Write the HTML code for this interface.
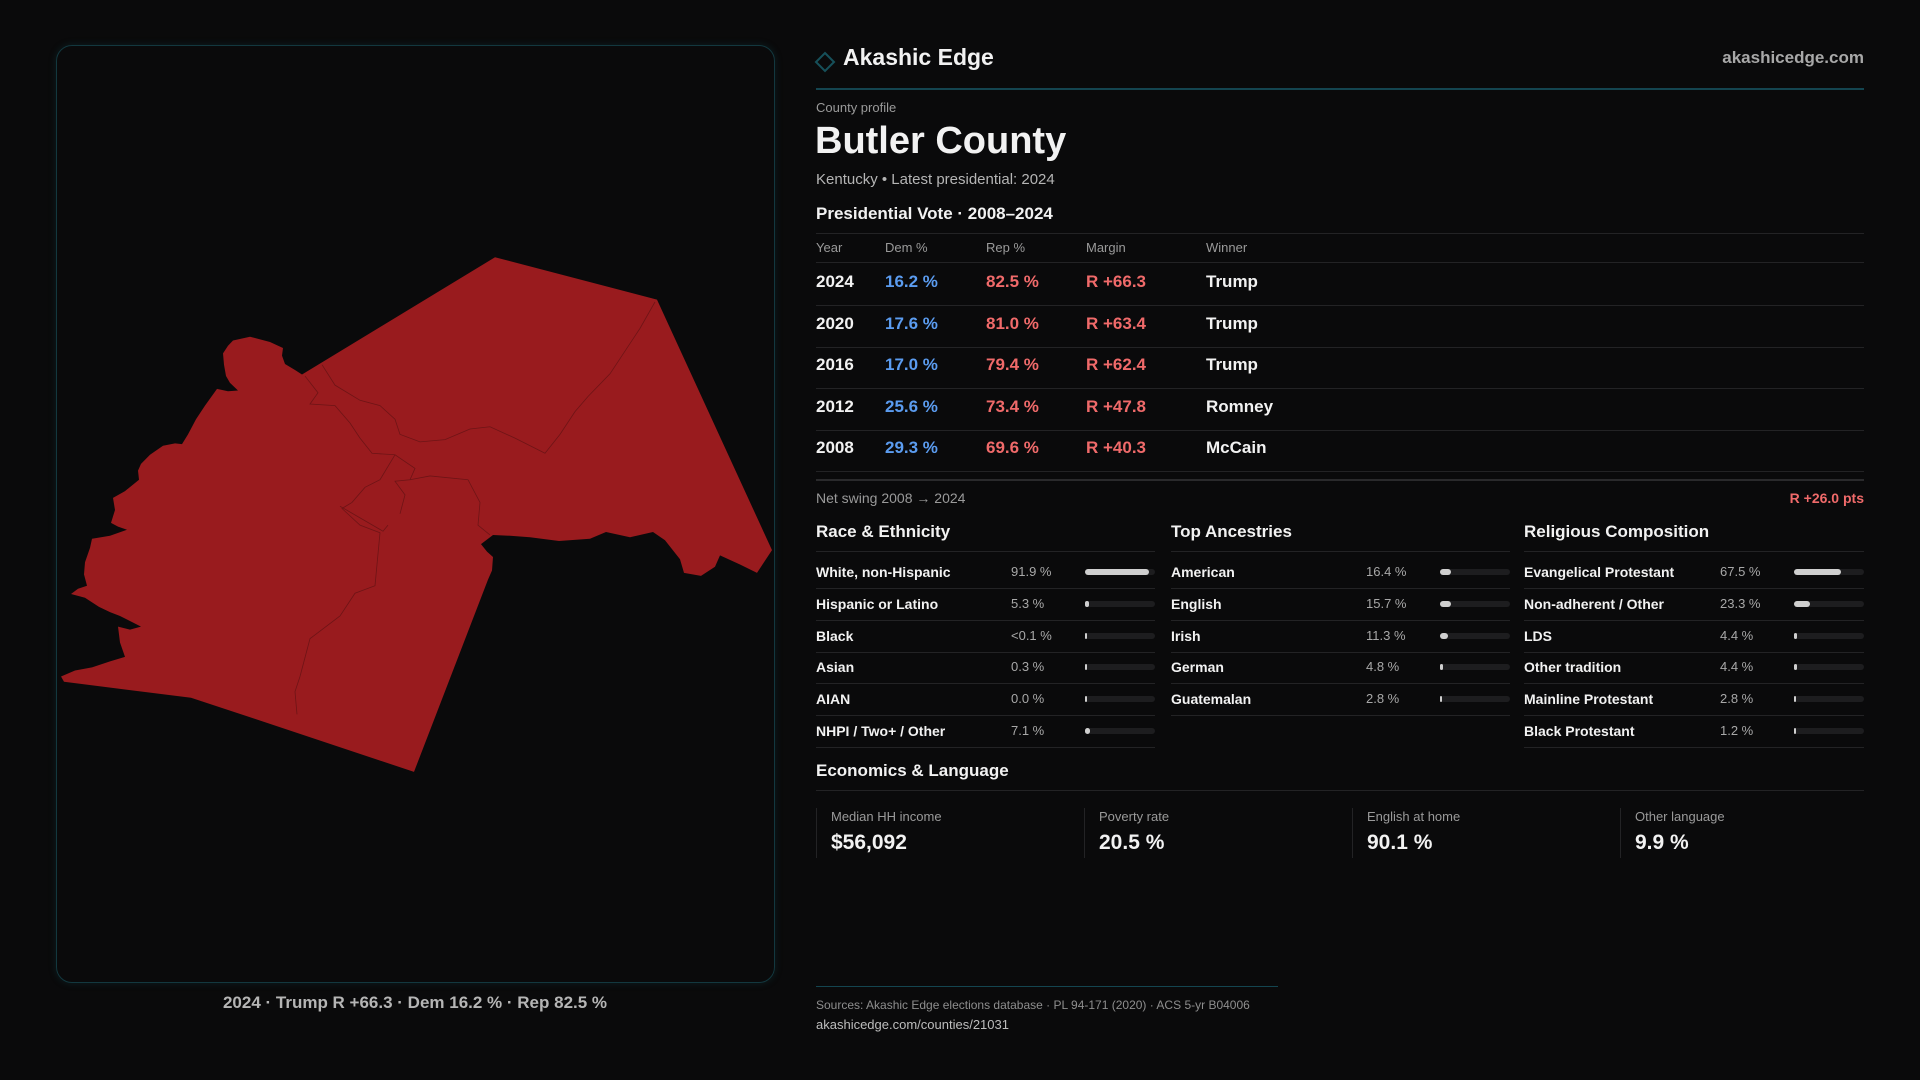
<!DOCTYPE html>
<html><head><meta charset="utf-8"><style>
*{margin:0;padding:0;box-sizing:border-box}
body{width:1920px;height:1080px;background:#0a0a0b;font-family:"Liberation Sans",sans-serif;color:#f2f2f2;position:relative;overflow:hidden}
.a{position:absolute;white-space:nowrap}
.rule{position:absolute;height:1px;background:#232325}
.g{color:#9a9a9a}
.b{font-weight:bold}
.bar{position:absolute;height:6px;border-radius:3px;background:#1d1d1f}
.bar i{position:absolute;left:0;top:0;height:6px;border-radius:3px;background:#cfcfcf}
</style></head><body>
<div class="a" style="left:56px;top:45px;width:719px;height:938px;border:1px solid #13383f;border-radius:16px;box-shadow:0 0 8px rgba(20,90,100,.25)"></div>
<svg class="a" style="left:0;top:0" width="800" height="1000">
<g transform="translate(0,230) scale(1,0.7568) translate(0,-230)">
<path fill="#991b1e" d="M495,266 L657,322 L772,653 L757,683 L740,672 L720,660 L715,675 L701,687 L684,683 L680,665 L665,640 L653,629 L630,636 L606,629 L590,638 L559,641 L530,636 L510,634 L493,633 L481,645 L487,655 L493,662 L492,680 L488,692 L414,946 L255,876 L191,848 L64,827 L61,820 L75,812 L92,808 L110,800 L125,794 L120,775 L118,754 L130,758 L141,754 L120,740 L110,735 L99,728 L85,716 L71,711 L78,704 L87,700 L84,685 L85,669 L90,650 L92,638 L110,634 L127,626 L118,622 L111,617 L115,600 L113,584 L125,575 L139,560 L138,548 L141,539 L150,527 L163,515 L175,512 L182,513 L188,500 L196,480 L205,462 L217,440 L228,443 L238,442 L230,432 L226,423 L224,408 L223,393 L228,383 L233,376 L250,371 L270,378 L283,386 L282,396 L285,407 L295,415 L302,421 Z"/>
<g fill="none" stroke="#6e1416" stroke-width="0.8" vector-effect="non-scaling-stroke">
<path vector-effect="non-scaling-stroke" d="M322,408 L335,435 L360,455 L380,462 L395,480 L400,500 L420,510 L445,507 L470,493 L490,490 L515,505 L545,525 L560,500 L575,470 L588,450 L610,420 L640,360 L655,325"/>
<path vector-effect="non-scaling-stroke" d="M305,423 L318,445 L310,460 L335,462 L350,485 L360,505 L372,525 L395,527 L415,545 L410,560 L395,562 L405,580 L400,605"/>
<path vector-effect="non-scaling-stroke" d="M395,527 L380,560 L365,570 L352,590 L342,598 L360,620 L380,630 L375,700 L355,710 L340,740 L310,770 L300,820 L295,840 L297,870"/>
<path vector-effect="non-scaling-stroke" d="M410,560 L430,555 L468,560 L480,590 L478,620 L490,633"/>
<path vector-effect="non-scaling-stroke" d="M340,595 L383,628 L388,620"/>
</g>
</g>
</svg>
<div class="a" style="left:0;width:830px;top:993px;text-align:center;font-size:17px;color:#b5b5b5;font-weight:bold">2024 · Trump R +66.3 · Dem 16.2 % · Rep 82.5 %</div>

<svg class="a" style="left:814px;top:51px" width="22" height="22"><path d="M11,2 L20,11 L11,20 L2,11 Z" fill="none" stroke="#16505a" stroke-width="2"/></svg>
<div class="a b" style="left:843px;top:44px;font-size:23px">Akashic Edge</div>
<div class="a b" style="right:56px;top:48px;font-size:17px;color:#a8a8a8">akashicedge.com</div>
<div class="rule" style="left:816px;width:1048px;top:88px;background:#144550;height:2px"></div>
<div class="a g" style="left:816px;top:100px;font-size:13px">County profile</div>
<div class="a b" style="left:815px;top:120px;font-size:38px">Butler County</div>
<div class="a" style="left:816px;top:171px;font-size:15px;color:#b5b5b5">Kentucky • Latest presidential: 2024</div>
<div class="a b" style="left:816px;top:204px;font-size:17px">Presidential Vote · 2008–2024</div>
<div class="rule" style="left:816px;width:1048px;top:233px"></div>
<div class="a g" style="left:816px;top:240px;font-size:13px">Year</div>
<div class="a g" style="left:885px;top:240px;font-size:13px">Dem %</div>
<div class="a g" style="left:986px;top:240px;font-size:13px">Rep %</div>
<div class="a g" style="left:1086px;top:240px;font-size:13px">Margin</div>
<div class="a g" style="left:1206px;top:240px;font-size:13px">Winner</div>
<div class="rule" style="left:816px;width:1048px;top:262px"></div>
<div id="vote"></div>
<div class="rule" style="left:816px;width:1048px;top:479px;height:2px;background:#2a2a2c"></div>
<div class="a g" style="left:816px;top:490px;font-size:14px">Net swing 2008 → 2024</div>
<div class="a b" style="right:56px;top:490px;font-size:14px;color:#f06a6a">R +26.0 pts</div>
<div id="demo"></div>
<div class="a b" style="left:816px;top:761px;font-size:17px">Economics &amp; Language</div>
<div class="rule" style="left:816px;width:1048px;top:790px"></div>
<div id="econ"></div>
<div class="rule" style="left:816px;width:462px;top:986px;background:#144550"></div>
<div class="a g" style="left:816px;top:998px;font-size:12px;color:#8e8e8e">Sources: Akashic Edge elections database · PL 94-171 (2020) · ACS 5-yr B04006</div>
<div class="a" style="left:816px;top:1017px;font-size:13px;color:#bdbdbd">akashicedge.com/counties/21031</div>
<script>
const years=["2024","2020","2016","2012","2008"];
const demPct=[16.2,17.6,17.0,25.6,29.3];
const repPct=[82.5,81.0,79.4,73.4,69.6];
const winners=["Trump","Trump","Trump","Romney","McCain"];
const raceLabels=["White, non-Hispanic","Hispanic or Latino","Black","Asian","AIAN","NHPI / Two+ / Other"];
const raceValues=[91.9,5.3,0.05,0.3,0.0,7.1];
const raceText=["91.9 %","5.3 %","<0.1 %","0.3 %","0.0 %","7.1 %"];
const ancLabels=["American","English","Irish","German","Guatemalan"];
const ancValues=[16.4,15.7,11.3,4.8,2.8];
const relLabels=["Evangelical Protestant","Non-adherent / Other","LDS","Other tradition","Mainline Protestant","Black Protestant"];
const relValues=[67.5,23.3,4.4,4.4,2.8,1.2];
const econLabels=["Median HH income","Poverty rate","English at home","Other language"];
const econValues=["$56,092","20.5 %","90.1 %","9.9 %"];

function mk(parent,css,txt,cls){const d=document.createElement('div');d.className='a '+(cls||'');d.style.cssText=css;if(txt!==undefined)d.textContent=txt;parent.appendChild(d);return d;}
const vote=document.getElementById('vote');
years.forEach((y,i)=>{
  const top=283+i*41.6-11;
  const m=(repPct[i]-demPct[i]).toFixed(1);
  let e=mk(vote,`left:816px;top:${top}px;font-size:17px`,y,'b');
  
  
  e=mk(vote,`left:885px;top:${top}px;font-size:17px;color:#5b9cf0`,demPct[i].toFixed(1)+' %','b');
  
  
  e=mk(vote,`left:986px;top:${top}px;font-size:17px;color:#f06a6a`,repPct[i].toFixed(1)+' %','b');
  
  
  e=mk(vote,`left:1086px;top:${top}px;font-size:17px;color:#f06a6a`,'R +'+m,'b');
  
  
  e=mk(vote,`left:1206px;top:${top}px;font-size:17px`,winners[i],'b');
  
  
  const r=document.createElement('div');r.className='rule';r.style.cssText=`left:816px;width:1048px;top:${305+i*41.6}px`;
  
  
  vote.appendChild(r);
});
const demo=document.getElementById('demo');
function section(title,x,w,valX,barX,labels,vals,texts){
  let t=mk(demo,`left:${x}px;top:522px;font-size:17px`,title,'b');
  
  
  const r0=document.createElement('div');r0.className='rule';r0.style.cssText=`left:${x}px;width:${w}px;top:551px`;demo.appendChild(r0);
  
  
  labels.forEach((l,i)=>{
    const cy=572+i*31.8;
    let e=mk(demo,`left:${x}px;top:${cy-8}px;font-size:14px`,l,'b');
    
    
    e=mk(demo,`left:${valX}px;top:${cy-8}px;font-size:13px;color:#a8a8a8`,texts?texts[i]:vals[i].toFixed(1)+' %');
    
    
    const bw=x+w-barX;
    const b=document.createElement('div');b.className='bar';b.style.cssText=`left:${barX}px;top:${cy-3}px;width:${bw}px`;
    
    
    const f=document.createElement('i');f.style.width=Math.max(2,bw*vals[i]/100)+'px';b.appendChild(f);demo.appendChild(b);
    const rr=document.createElement('div');rr.className='rule';rr.style.cssText=`left:${x}px;width:${w}px;top:${cy+16}px`;demo.appendChild(rr);
    
    
  });
}
section("Race & Ethnicity",816,339,1011,1085,raceLabels,raceValues,raceText);
section("Top Ancestries",1171,339,1366,1440,ancLabels,ancValues);
section("Religious Composition",1524,340,1720,1794,relLabels,relValues);
const econ=document.getElementById('econ');
econLabels.forEach((l,i)=>{
  const x=816+i*268;
  const c=mk(econ,`left:${x}px;top:808px;width:1px;height:50px;background:#232325`);
  
  
  let e=mk(econ,`left:${x+15}px;top:809px;font-size:13px;color:#9a9a9a`,l);
  
  
  e=mk(econ,`left:${x+15}px;top:831px;font-size:21px`,econValues[i],'b');
  
  
});
</script>
</body></html>
